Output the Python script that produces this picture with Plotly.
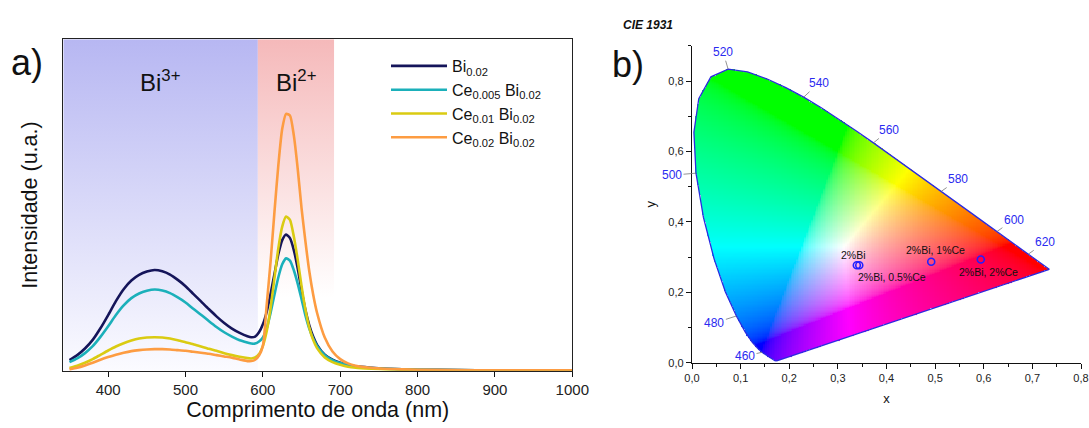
import numpy as np
import plotly.graph_objects as go

# ---------------- data: panel a) emission spectra ----------------
wavelength_nm = [350, 360, 370, 380, 390, 400, 410, 420, 430, 440, 450, 460, 470, 480, 490,
                 500, 510, 520, 530, 540, 550, 560, 570, 580,
                 585, 590, 595, 600, 605, 610, 615, 620, 625, 630, 635, 640, 645, 650, 655,
                 660, 665, 670,
                 680, 690, 700, 710, 720, 740, 760, 780, 800, 850, 900, 950, 1000]

int_bi002 = [0.032, 0.047, 0.067, 0.093, 0.128, 0.168, 0.210, 0.246, 0.272, 0.289, 0.299, 0.304,
             0.300, 0.290, 0.274, 0.255, 0.232, 0.209, 0.186, 0.164, 0.144, 0.127, 0.114, 0.104,
             0.101, 0.103, 0.116, 0.140, 0.178, 0.232, 0.292, 0.352, 0.394, 0.411, 0.400, 0.364,
             0.309, 0.243, 0.183, 0.137, 0.103, 0.078,
             0.048, 0.033, 0.024, 0.018, 0.013, 0.009, 0.006, 0.004, 0.003, 0.002, 0.001, 0.001, 0.001]

int_ce0005 = [0.026, 0.037, 0.053, 0.074, 0.102, 0.134, 0.168, 0.197, 0.219, 0.233, 0.241, 0.245,
              0.242, 0.234, 0.221, 0.206, 0.187, 0.169, 0.150, 0.132, 0.116, 0.103, 0.092, 0.085,
              0.082, 0.082, 0.088, 0.100, 0.128, 0.175, 0.230, 0.282, 0.321, 0.339, 0.332, 0.303,
              0.263, 0.216, 0.167, 0.127, 0.097, 0.075,
              0.047, 0.032, 0.023, 0.017, 0.012, 0.008, 0.006, 0.004, 0.003, 0.002, 0.001, 0.001, 0.001]

int_ce001 = [0.008, 0.015, 0.024, 0.035, 0.048, 0.061, 0.073, 0.083, 0.091, 0.097, 0.100, 0.101,
             0.100, 0.097, 0.092, 0.086, 0.080, 0.073, 0.066, 0.060, 0.053, 0.047, 0.042, 0.038,
             0.037, 0.040, 0.050, 0.075, 0.120, 0.190, 0.280, 0.370, 0.435, 0.465, 0.455, 0.405,
             0.335, 0.255, 0.185, 0.130, 0.093, 0.068,
             0.040, 0.026, 0.018, 0.012, 0.009, 0.006, 0.004, 0.003, 0.002, 0.001, 0.001, 0.001, 0.001]

int_ce002 = [0.004, 0.009, 0.016, 0.024, 0.033, 0.041, 0.048, 0.054, 0.059, 0.062, 0.064, 0.065,
             0.065, 0.064, 0.062, 0.060, 0.057, 0.054, 0.051, 0.047, 0.043, 0.039, 0.034, 0.029,
             0.029, 0.033, 0.046, 0.075, 0.200, 0.330, 0.480, 0.620, 0.730, 0.775, 0.770, 0.710,
             0.610, 0.490, 0.390, 0.300, 0.230, 0.175,
             0.100, 0.058, 0.035, 0.022, 0.015, 0.009, 0.006, 0.004, 0.003, 0.002, 0.001, 0.001, 0.001]

series_names = ["Bi<sub>0.02</sub>", "Ce<sub>0.005</sub> Bi<sub>0.02</sub>",
                "Ce<sub>0.01</sub> Bi<sub>0.02</sub>", "Ce<sub>0.02</sub> Bi<sub>0.02</sub>"]
series_colors = ["#15155a", "#1bb0ba", "#dacb12", "#fd9c42"]

bi3_band_nm = [342, 593.5]
bi2_band_nm = [593.5, 692]
x_ticks_nm = [400, 500, 600, 700, 800, 900, 1000]

# ---------------- data: panel b) CIE 1931 ----------------
locus_nm = [380, 385, 390, 395, 400, 405, 410, 415, 420, 425, 430, 435, 440, 445, 450, 455, 460,
            465, 470, 475, 480, 485, 490, 495, 500, 505, 510, 515, 520, 525, 530, 535, 540, 545,
            550, 555, 560, 565, 570, 575, 580, 585, 590, 595, 600, 605, 610, 615, 620, 625, 630,
            635, 640, 645, 650, 655, 660, 665, 670, 680, 690, 700]
locus_x = [0.1741, 0.1740, 0.1738, 0.1736, 0.1733, 0.1730, 0.1726, 0.1721, 0.1714, 0.1703, 0.1689,
           0.1669, 0.1644, 0.1611, 0.1566, 0.1510, 0.1440, 0.1355, 0.1241, 0.1096, 0.0913, 0.0687,
           0.0454, 0.0235, 0.0082, 0.0039, 0.0139, 0.0389, 0.0743, 0.1142, 0.1547, 0.1929, 0.2296,
           0.2658, 0.3016, 0.3373, 0.3731, 0.4087, 0.4441, 0.4788, 0.5125, 0.5448, 0.5752, 0.6029,
           0.6270, 0.6482, 0.6658, 0.6801, 0.6915, 0.7006, 0.7079, 0.7140, 0.7190, 0.7230, 0.7260,
           0.7283, 0.7300, 0.7311, 0.7320, 0.7334, 0.7344, 0.7347]
locus_y = [0.0050, 0.0050, 0.0049, 0.0049, 0.0048, 0.0048, 0.0048, 0.0048, 0.0051, 0.0058, 0.0069,
           0.0086, 0.0109, 0.0138, 0.0177, 0.0227, 0.0297, 0.0399, 0.0578, 0.0868, 0.1327, 0.2007,
           0.2950, 0.4127, 0.5384, 0.6548, 0.7502, 0.8120, 0.8338, 0.8262, 0.8059, 0.7816, 0.7543,
           0.7243, 0.6923, 0.6589, 0.6245, 0.5896, 0.5547, 0.5202, 0.4866, 0.4544, 0.4242, 0.3965,
           0.3725, 0.3514, 0.3340, 0.3197, 0.3083, 0.2993, 0.2920, 0.2859, 0.2809, 0.2770, 0.2740,
           0.2717, 0.2700, 0.2689, 0.2680, 0.2666, 0.2656, 0.2653]

label_nm = [460, 480, 500, 520, 540, 560, 580, 600, 620]
label_offsets_px = [(-17, 4), (-22, 7), (-24, 2), (-5, -17), (15, -14), (16, -13), (17, -12),
                    (17, -12), (17, -12)]

sample_names = ["2%Bi", "2%Bi, 0.5%Ce", "2%Bi, 1%Ce", "2%Bi, 2%Ce"]
sample_x = [0.339, 0.344, 0.492, 0.594]
sample_y = [0.277, 0.277, 0.287, 0.293]
sample_label_shift = [(-3, 10), (33, -12), (4, 12), (8, -12)]

cie_ticks_x = [0.0, 0.1, 0.2, 0.3, 0.4, 0.5, 0.6, 0.7, 0.8]
cie_ticks_y = [0.0, 0.2, 0.4, 0.6, 0.8]

FONT = "Liberation Sans, Arial, Helvetica, sans-serif"

fig = go.Figure()

# ---- shaded bands (vertical gradients) ----
fig.add_trace(go.Scatter(
    x=[bi3_band_nm[0], bi3_band_nm[1], bi3_band_nm[1], bi3_band_nm[0], bi3_band_nm[0]],
    y=[0, 0, 1, 1, 0], mode="none", fill="toself",
    fillgradient=dict(type="vertical", colorscale=[[0, "#fbfbff"], [1, "#b7b7f2"]]),
    showlegend=False, hoverinfo="skip", xaxis="x", yaxis="y"))
fig.add_trace(go.Scatter(
    x=[bi2_band_nm[0], bi2_band_nm[1], bi2_band_nm[1], bi2_band_nm[0], bi2_band_nm[0]],
    y=[0.22, 0.22, 1, 1, 0.22], mode="none", fill="toself",
    fillgradient=dict(type="vertical", colorscale=[[0, "#ffffff"], [1, "#f5b9ba"]]),
    showlegend=False, hoverinfo="skip", xaxis="x", yaxis="y"))

# ---- spectra ----
for name, vals, col in zip(series_names, [int_bi002, int_ce0005, int_ce001, int_ce002], series_colors):
    fig.add_trace(go.Scatter(x=wavelength_nm, y=vals, mode="lines", name=name,
                             line=dict(color=col, width=2.6, shape="spline", smoothing=0.6),
                             xaxis="x", yaxis="y"))

# ---- CIE colour image ----
step = 0.0035
gx = np.arange(0, 0.74, step) + step / 2
gy = np.arange(0, 0.84, step) + step / 2
GX, GY = np.meshgrid(gx, gy)
px_poly = np.array(locus_x)
py_poly = np.array(locus_y)
inside = np.zeros(GX.shape, dtype=bool)
n = len(px_poly)
for i in range(n):
    x1, y1 = px_poly[i], py_poly[i]
    x2, y2 = px_poly[(i + 1) % n], py_poly[(i + 1) % n]
    cond = ((y1 > GY) != (y2 > GY))
    with np.errstate(divide="ignore", invalid="ignore"):
        xint = x1 + (GY - y1) * (x2 - x1) / (y2 - y1 + 1e-12)
    inside ^= cond & (GX < xint)
yy = np.maximum(GY, 1e-6)
Xc = GX / yy
Zc = (1 - GX - GY) / yy
r = 3.2406 * Xc - 1.5372 - 0.4986 * Zc
g = -0.9689 * Xc + 1.8758 + 0.0415 * Zc
b = 0.0557 * Xc - 0.2040 + 1.0570 * Zc
rgb = np.clip(np.stack([r, g, b], axis=-1), 0, None)
rgb = rgb / np.maximum(rgb.max(axis=-1, keepdims=True), 1e-9)
rgb = np.where(rgb <= 0.0031308, 12.92 * rgb, 1.055 * np.power(rgb, 1 / 2.4) - 0.055)
img = np.zeros(GX.shape + (4,), dtype=float)
img[..., :3] = np.round(np.clip(rgb, 0, 1) * 255)
img[..., 3] = inside.astype(float)
img[~inside, :3] = 255
fig.add_trace(go.Image(z=img, colormodel="rgba", x0=gx[0], dx=step, y0=gy[0], dy=step,
                       zsmooth="fast", hoverinfo="skip", xaxis="x2", yaxis="y2"))

# locus outline
fig.add_trace(go.Scatter(x=locus_x + [locus_x[0]], y=locus_y + [locus_y[0]], mode="lines",
                         line=dict(color="#2b2be0", width=1.3), showlegend=False,
                         hoverinfo="skip", xaxis="x2", yaxis="y2"))

# sample points
fig.add_trace(go.Scatter(x=sample_x, y=sample_y, mode="markers",
                         marker=dict(symbol="circle-open", size=7, color="#2020ff",
                                     line=dict(width=1.6, color="#2020ff")),
                         showlegend=False, hoverinfo="skip", xaxis="x2", yaxis="y2"))

annotations = []
# wavelength labels with leader lines
for nm, (ax, ay) in zip(label_nm, label_offsets_px):
    k = locus_nm.index(nm)
    annotations.append(dict(x=locus_x[k], y=locus_y[k], xref="x2", yref="y2", text=str(nm),
                            showarrow=True, arrowhead=0, arrowwidth=0.8, arrowcolor="#777777",
                            ax=ax, ay=ay, standoff=0,
                            font=dict(family=FONT, size=12, color="#2a2af0")))
for name, sx, sy, (xs, ys) in zip(sample_names, sample_x, sample_y, sample_label_shift):
    annotations.append(dict(x=sx, y=sy, xref="x2", yref="y2", text=name, showarrow=False,
                            xanchor="center", yanchor="middle",
                            xshift=xs, yshift=ys, font=dict(family=FONT, size=10.5, color="#111111")))

# band labels
annotations.append(dict(x=467, y=0.875, xref="x", yref="y", text="Bi<sup>3+</sup>", showarrow=False,
                        xanchor="center", yanchor="middle",
                        font=dict(family=FONT, size=24, color="#111111")))
annotations.append(dict(x=643, y=0.875, xref="x", yref="y", text="Bi<sup>2+</sup>", showarrow=False,
                        xanchor="center", yanchor="middle",
                        font=dict(family=FONT, size=24, color="#111111")))
# panel letters
annotations.append(dict(x=27 / 1089, y=1 - 63 / 428, xref="paper", yref="paper", text="a)",
                        xanchor="center", yanchor="middle",
                        showarrow=False, font=dict(family=FONT, size=36, color="#111111")))
annotations.append(dict(x=628 / 1089, y=1 - 64 / 428, xref="paper", yref="paper", text="b)",
                        xanchor="center", yanchor="middle",
                        showarrow=False, font=dict(family=FONT, size=36, color="#111111")))
annotations.append(dict(x=648 / 1089, y=1 - 25 / 428, xref="paper", yref="paper",
                        text="<b><i>CIE 1931</i></b>", showarrow=False,
                        xanchor="center", yanchor="middle",
                        font=dict(family=FONT, size=12, color="#111111")))

fig.update_layout(
    width=1089, height=428, margin=dict(l=0, r=0, t=0, b=0, pad=0, autoexpand=False),
    autosize=False,
    paper_bgcolor="white", plot_bgcolor="white",
    font=dict(family=FONT, color="#111111"),
    showlegend=True,
    legend=dict(x=386 / 1089, y=1 - 49 / 428, xanchor="left", yanchor="top",
                bgcolor="rgba(0,0,0,0)", font=dict(family=FONT, size=16, color="#111111"),
                itemwidth=56, tracegroupgap=0),
    xaxis=dict(domain=[63.3 / 1089, 572.3 / 1089], range=[342, 1000], anchor="y",
               automargin=False,
               tickvals=x_ticks_nm, ticks="outside", ticklen=5, tickcolor="#111111",
               showline=True, linecolor="#222222", linewidth=1.2, mirror=True,
               showgrid=False, zeroline=False, tickfont=dict(size=15, color="#222222"),
               title=dict(text="Comprimento de onda (nm)", font=dict(size=21.5, color="#111111"),
                          standoff=4)),
    yaxis=dict(domain=[1 - 370.7 / 428, 1 - 39.3 / 428], range=[0, 1], anchor="x",
               automargin=False,
               showticklabels=False, ticks="", showline=True, linecolor="#222222", linewidth=1.2,
               mirror=True, showgrid=False, zeroline=False,
               title=dict(text="Intensidade (u.a.)", font=dict(size=21.5, color="#111111"),
                          standoff=18)),
    xaxis2=dict(domain=[692 / 1089, 1081 / 1089], range=[0, 0.8], anchor="y2", autorange=False,
                constrain="range", automargin=False,
                tickvals=cie_ticks_x, ticktext=[f"{v:.1f}".replace(".", ",") for v in cie_ticks_x],
                ticks="outside", ticklen=5, tickcolor="#111111",
                minor=dict(dtick=0.05, ticks="outside", ticklen=3, tickcolor="#111111"),
                showline=True, linecolor="#111111", linewidth=1.3, showgrid=False, zeroline=False,
                tickfont=dict(size=11, color="#222222"),
                title=dict(text="x", font=dict(size=13, color="#111111"), standoff=10)),
    yaxis2=dict(domain=[1 - 362.7 / 428, 1 - 45.9 / 428], range=[0, 0.9], anchor="x2",
                autorange=False, scaleanchor=False, constrain="range", automargin=False,
                tickvals=cie_ticks_y, ticktext=[f"{v:.1f}".replace(".", ",") for v in cie_ticks_y],
                ticks="outside", ticklen=5, tickcolor="#111111",
                minor=dict(dtick=0.1, ticks="outside", ticklen=3, tickcolor="#111111"),
                showline=True, linecolor="#111111", linewidth=1.3, showgrid=False, zeroline=False,
                tickfont=dict(size=11, color="#222222"),
                title=dict(text="y", font=dict(size=13, color="#111111"), standoff=9)),
    annotations=annotations,
)

fig.write_html("out.html")
